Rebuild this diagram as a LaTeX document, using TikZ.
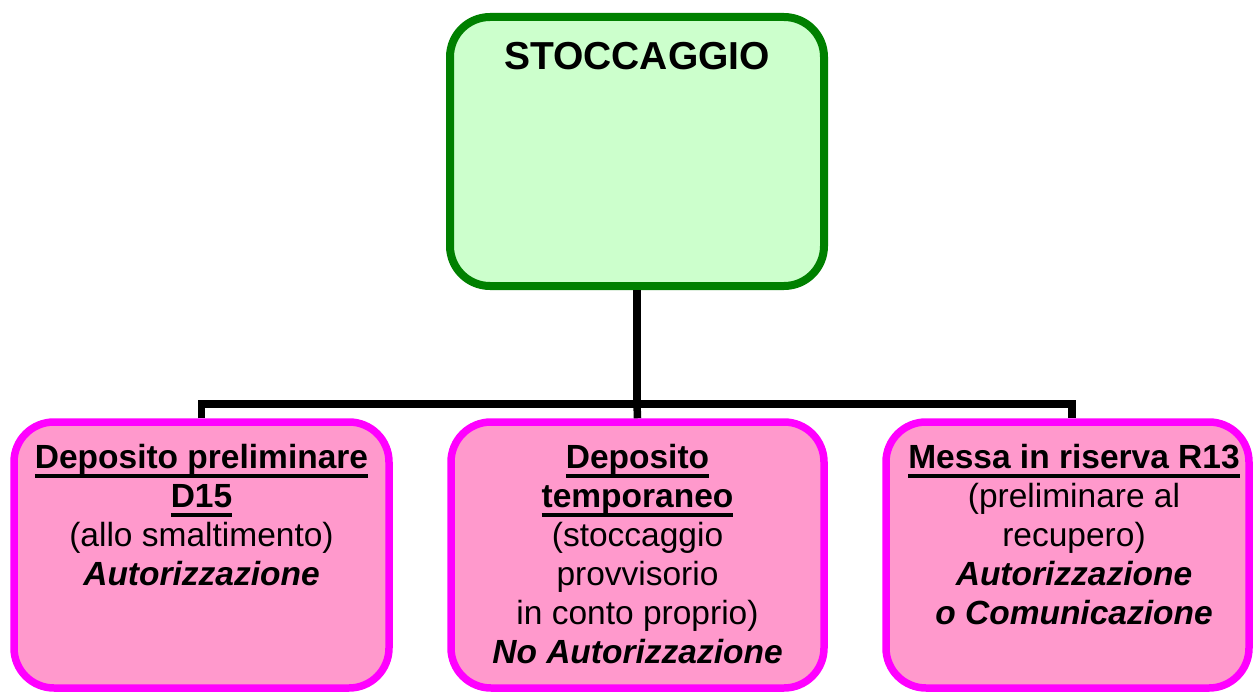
\documentclass[tikz,border=0pt]{standalone}
\usepackage{fontspec}
\setmainfont{Liberation Sans}
\definecolor{boxgreen}{HTML}{008000}
\definecolor{fillgreen}{HTML}{CCFFCC}
\definecolor{boxmag}{HTML}{FF00FF}
\definecolor{fillpink}{HTML}{FF99CC}
\newcommand\myul[1]{\setbox0\hbox{#1}\rlap{\rule[-9.5pt]{\wd0}{4pt}}\box0}
\newcommand\boxfont{\fontsize{33.5}{39}\selectfont}
\tikzset{
  topbox/.style={draw=boxgreen, fill=fillgreen, line width=8pt, rounded corners=40pt, inner sep=0pt},
  pinkbox/.style={draw=boxmag, fill=fillpink, line width=7.5pt, rounded corners=40pt, inner sep=0pt},
  boxtext/.style={anchor=base, inner sep=0pt},
  conn/.style={draw=black, line width=7.5pt}
}
\begin{document}
\begin{tikzpicture}[x=1pt,y=-1pt]
\useasboundingbox (0,0) rectangle (1253,693);
% top box
\node[topbox, minimum width=374pt, minimum height=269pt] (top) at (637,151.5) {};
\node[boxtext] (ttop) at (637,70) {\fontsize{39}{45}\selectfont\bfseries STOCCAGGIO};
% bottom boxes
\node[pinkbox, minimum width=375pt, minimum height=266pt] (b1) at (201.5,555) {};
\node[pinkbox, minimum width=373pt, minimum height=266pt] (b2) at (637.5,555) {};
\node[pinkbox, minimum width=363pt, minimum height=266pt] (b3) at (1067.5,555) {};
% texts
\node[boxtext] (t1) at (201.5,468) {\parbox[t]{370pt}{\centering\boxfont
  \textbf{\myul{Deposito preliminare}}\\
  \textbf{\myul{D15}}\\
  (allo smaltimento)\\
  \textbf{\itshape Autorizzazione}}};
\node[boxtext] (t2) at (637.5,468) {\parbox[t]{370pt}{\centering\boxfont
  \textbf{\myul{Deposito}}\\
  \textbf{\myul{temporaneo}}\\
  (stoccaggio\\
  provvisorio\\
  in conto proprio)\\
  \textbf{\itshape No Autorizzazione}}};
\node[boxtext] (t3) at (1074,468) {\parbox[t]{370pt}{\centering\boxfont
  \textbf{\myul{Messa in riserva R13}}\\
  (preliminare al\\
  recupero)\\
  \textbf{\itshape Autorizzazione}\\
  \textbf{\itshape o Comunicazione}}};
% connectors
\coordinate (j) at (637,404);
\coordinate (b3n) at ([xshift=4.5pt]b3.north);
\draw[conn] (top.south) -- (j);
\draw[conn] (b1.north) |- (j) -| (b3n);
\draw[conn] (j) -- (b2.north);
\end{tikzpicture}
\end{document}
